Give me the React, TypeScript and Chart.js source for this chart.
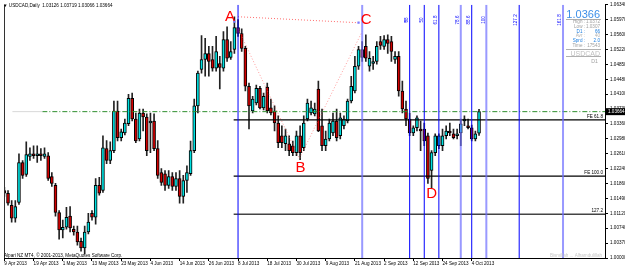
import React, { useEffect, useRef } from 'react';
import { Chart, registerables } from 'chart.js';
Chart.register(...registerables);

// ---- axis ticks ----
const xTickIdx = [0, 8, 16, 24, 32, 40, 48, 56, 64, 72, 80, 88, 96, 104, 112, 120, 128];
const xTickLabels = ['9 Apr 2013', '19 Apr 2013', '1 May 2013', '13 May 2013', '23 May 2013', '4 Jun 2013', '14 Jun 2013', '26 Jun 2013', '8 Jul 2013', '18 Jul 2013', '30 Jul 2013', '9 Aug 2013', '21 Aug 2013', '2 Sep 2013', '12 Sep 2013', '24 Sep 2013', '4 Oct 2013'];
const yTickVals = [1.0, 1.00373, 1.00746, 1.01119, 1.01492, 1.01865, 1.02238, 1.02611, 1.02984, 1.03356, 1.03729, 1.04102, 1.04475, 1.04848, 1.05221, 1.05594, 1.05967, 1.0634];
const yTickLabels = ['1.00000', '1.00370', '1.00740', '1.01120', '1.01490', '1.01860', '1.02240', '1.02610', '1.02980', '1.03360', '1.03730', '1.04100', '1.04480', '1.04850', '1.05220', '1.05600', '1.05970', '1.06340'];

// ---- daily OHLC, USDCAD 9 Apr 2013 .. 8 Oct 2013 ----
const opens = [1.0169, 1.0162, 1.0132, 1.0100, 1.0139, 1.0239, 1.0209, 1.0254, 1.0261, 1.0256, 1.0261, 1.0254, 1.0256, 1.0204, 1.0182, 1.0114, 1.0070, 1.0077, 1.0105, 1.0072, 1.0065, 1.0042, 1.0025, 1.0065, 1.0112, 1.0102, 1.0182, 1.0169, 1.0274, 1.0244, 1.0269, 1.0368, 1.0301, 1.0313, 1.0336, 1.0400, 1.0348, 1.0298, 1.0363, 1.0353, 1.0338, 1.0343, 1.0274, 1.0214, 1.0211, 1.0182, 1.0204, 1.0179, 1.0199, 1.0154, 1.0194, 1.0211, 1.0269, 1.0381, 1.0472, 1.0497, 1.0512, 1.0497, 1.0475, 1.0487, 1.0475, 1.0547, 1.0502, 1.0522, 1.0577, 1.0562, 1.0525, 1.0430, 1.0368, 1.0388, 1.0425, 1.0376, 1.0428, 1.0376, 1.0368, 1.0338, 1.0306, 1.0286, 1.0286, 1.0281, 1.0264, 1.0306, 1.0276, 1.0348, 1.0363, 1.0361, 1.0423, 1.0331, 1.0281, 1.0298, 1.0313, 1.0343, 1.0306, 1.0331, 1.0343, 1.0393, 1.0418, 1.0480, 1.0522, 1.0530, 1.0480, 1.0487, 1.0492, 1.0542, 1.0530, 1.0547, 1.0542, 1.0497, 1.0505, 1.0418, 1.0373, 1.0348, 1.0313, 1.0326, 1.0323, 1.0323, 1.0306, 1.0219, 1.0264, 1.0281, 1.0281, 1.0306, 1.0318, 1.0311, 1.0306, 1.0313, 1.0343, 1.0331, 1.0326, 1.0298, 1.03126];
const highs = [1.0177, 1.0169, 1.0144, 1.0144, 1.0261, 1.0244, 1.0291, 1.0276, 1.0281, 1.0281, 1.0274, 1.0276, 1.0264, 1.0214, 1.0187, 1.0119, 1.0095, 1.0127, 1.0129, 1.0080, 1.0080, 1.0050, 1.0080, 1.0112, 1.0119, 1.0199, 1.0202, 1.0306, 1.0294, 1.0291, 1.0393, 1.0393, 1.0323, 1.0348, 1.0410, 1.0413, 1.0363, 1.0373, 1.0373, 1.0361, 1.0363, 1.0361, 1.0294, 1.0224, 1.0219, 1.0219, 1.0214, 1.0214, 1.0219, 1.0207, 1.0231, 1.0293, 1.0398, 1.0468, 1.0557, 1.0550, 1.0530, 1.0530, 1.0555, 1.0505, 1.0567, 1.0579, 1.0542, 1.0604, 1.0597, 1.0574, 1.0530, 1.0438, 1.0405, 1.0433, 1.0430, 1.0413, 1.0438, 1.0398, 1.0381, 1.0356, 1.0331, 1.0323, 1.0306, 1.0293, 1.0318, 1.0331, 1.0356, 1.0398, 1.0393, 1.0388, 1.0443, 1.0373, 1.0318, 1.0348, 1.0363, 1.0373, 1.0363, 1.0356, 1.0398, 1.0455, 1.0505, 1.0530, 1.0542, 1.0559, 1.0517, 1.0505, 1.0542, 1.0555, 1.0557, 1.0559, 1.0555, 1.0517, 1.0517, 1.0443, 1.0393, 1.0363, 1.0331, 1.0356, 1.0343, 1.0338, 1.0313, 1.0269, 1.0311, 1.0311, 1.0323, 1.0331, 1.0338, 1.0323, 1.0323, 1.0348, 1.0356, 1.0348, 1.0333, 1.0318, 1.03719];
const lows = [1.0154, 1.0132, 1.0090, 1.0090, 1.0134, 1.0199, 1.0204, 1.0244, 1.0249, 1.0239, 1.0244, 1.0249, 1.0194, 1.0179, 1.0105, 1.0047, 1.0050, 1.0072, 1.0065, 1.0057, 1.0032, 1.0017, 1.0010, 1.0060, 1.0095, 1.0085, 1.0157, 1.0164, 1.0236, 1.0236, 1.0264, 1.0293, 1.0293, 1.0308, 1.0331, 1.0343, 1.0289, 1.0293, 1.0318, 1.0256, 1.0264, 1.0269, 1.0199, 1.0182, 1.0169, 1.0174, 1.0169, 1.0169, 1.0137, 1.0137, 1.0164, 1.0207, 1.0264, 1.0363, 1.0463, 1.0455, 1.0455, 1.0468, 1.0468, 1.0423, 1.0468, 1.0492, 1.0497, 1.0512, 1.0555, 1.0517, 1.0418, 1.0323, 1.0363, 1.0383, 1.0373, 1.0371, 1.0363, 1.0358, 1.0318, 1.0276, 1.0276, 1.0269, 1.0256, 1.0256, 1.0256, 1.0246, 1.0269, 1.0343, 1.0358, 1.0356, 1.0316, 1.0269, 1.0269, 1.0293, 1.0306, 1.0293, 1.0298, 1.0323, 1.0338, 1.0388, 1.0413, 1.0472, 1.0492, 1.0492, 1.0468, 1.0472, 1.0485, 1.0522, 1.0522, 1.0512, 1.0492, 1.0487, 1.0405, 1.0363, 1.0331, 1.0306, 1.0306, 1.0318, 1.0269, 1.0281, 1.0187, 1.0174, 1.0256, 1.0274, 1.0269, 1.0298, 1.0306, 1.0298, 1.0298, 1.0281, 1.0331, 1.0323, 1.0293, 1.0293, 1.03066];
const closes = [1.0162, 1.0137, 1.0100, 1.0129, 1.0239, 1.0207, 1.0259, 1.0261, 1.0256, 1.0261, 1.0256, 1.0261, 1.0199, 1.0187, 1.0114, 1.0070, 1.0077, 1.0102, 1.0075, 1.0065, 1.0040, 1.0025, 1.0065, 1.0090, 1.0102, 1.0182, 1.0162, 1.0276, 1.0244, 1.0269, 1.0368, 1.0301, 1.0316, 1.0338, 1.0400, 1.0348, 1.0293, 1.0363, 1.0353, 1.0269, 1.0343, 1.0274, 1.0207, 1.0189, 1.0182, 1.0204, 1.0179, 1.0199, 1.0154, 1.0194, 1.0214, 1.0269, 1.0381, 1.0463, 1.0497, 1.0512, 1.0492, 1.0475, 1.0517, 1.0477, 1.0547, 1.0500, 1.0517, 1.0577, 1.0562, 1.0525, 1.0430, 1.0381, 1.0398, 1.0425, 1.0376, 1.0405, 1.0368, 1.0363, 1.0338, 1.0289, 1.0289, 1.0306, 1.0269, 1.0264, 1.0306, 1.0264, 1.0338, 1.0388, 1.0376, 1.0373, 1.0318, 1.0281, 1.0298, 1.0338, 1.0343, 1.0301, 1.0351, 1.0348, 1.0393, 1.0430, 1.0480, 1.0522, 1.0502, 1.0500, 1.0500, 1.0492, 1.0530, 1.0532, 1.0547, 1.0537, 1.0517, 1.0505, 1.0418, 1.0373, 1.0348, 1.0313, 1.0326, 1.0351, 1.0318, 1.0293, 1.0199, 1.0264, 1.0306, 1.0306, 1.0306, 1.0318, 1.0313, 1.0301, 1.0311, 1.0336, 1.0348, 1.0326, 1.0298, 1.0311, 1.03664];

// ---- drawing objects ----
const lastPrice = 1.03664;
const feLevels = [1.03457, 1.0205, 1.01095];
const feLabels = ['FE 61.8', 'FE 100.0', '127.2'];
const feStartIdx = 62.8;
const fibTimeIdx = [111, 115, 119, 125, 128, 132, 141, 153];
const fibTimeLabels = ['38', '50', '61.8', '78.6', '88.6', '100', '127.2', '161.8'];
const fibTimeLight = [false, false, false, true, false, true, false, true];
const pointAIdx = 64;
const pointCIdx = 98;
const lineAC = [{ x: 64, y: 1.0604 }, { x: 97, y: 1.0589 }];
const lineABC = [{ x: 64, y: 1.0574 }, { x: 80.8, y: 1.0249 }, { x: 98, y: 1.0567 }];
const anchorPts = [{ x: 63, y: 1.0592 }, { x: 97, y: 1.0589 }, { x: 109.8, y: 1.0592 }];
const wavePts = [
  { t: 'A', x: 61.8, y: 1.0603 },
  { t: 'B', x: 81.1, y: 1.0225 },
  { t: 'C', x: 99.1, y: 1.0596 },
  { t: 'D', x: 117.0, y: 1.016 },
];

const FONT = 'Liberation Sans';
const SMALL = 4.6;

export default function App() {
  const ref = useRef<HTMLCanvasElement | null>(null);
  useEffect(() => {
    if (!ref.current) return;
    const bodies = opens.map((o, i) => ({ x: i, y: [o, closes[i]] }));
    const wicks = lows.map((l, i) => ({ x: i, y: [l, highs[i]] }));
    const bodyColors = opens.map((o, i) => (closes[i] >= o ? '#00e0e0' : '#d00000'));

    const vLine = (idx: number) => [{ x: idx, y: 1.0 }, { x: idx, y: 1.0634 }];
    const LIGHT = 'rgba(110,110,255,0.7)';
    const lineDs: any[] = [];
    lineDs.push({ type: 'line', data: vLine(pointAIdx), borderColor: '#0000ff', borderWidth: 1, pointRadius: 0, order: 1 });
    lineDs.push({ type: 'line', data: vLine(pointCIdx), borderColor: LIGHT, borderWidth: 2, pointRadius: 0, order: 1 });
    fibTimeIdx.forEach((idx, k) => {
      lineDs.push({
        type: 'line', data: vLine(idx),
        borderColor: fibTimeLight[k] ? LIGHT : '#0000ff',
        borderWidth: fibTimeLight[k] ? 2 : 1, pointRadius: 0, order: 1,
      });
    });
    feLevels.forEach((lv, k) => {
      lineDs.push({
        type: 'line', data: [{ x: feStartIdx, y: lv }, { x: 164.5, y: lv }],
        borderColor: k === 2 ? '#444' : '#000', borderWidth: k === 2 ? 1.5 : 1.2, pointRadius: 0, order: 1,
      });
    });
    lineDs.push({ type: 'line', data: [{ x: 2.2, y: lastPrice }, { x: 10.4, y: lastPrice }], borderColor: '#d8d8d8', borderWidth: 1, pointRadius: 0, order: 2 });
    lineDs.push({ type: 'line', data: [{ x: 10.4, y: lastPrice }, { x: 164.5, y: lastPrice }], borderColor: '#2f8f2f', borderWidth: 1, borderDash: [5, 2, 1, 2], pointRadius: 0, order: 2 });
    lineDs.push({ type: 'line', data: lineAC, borderColor: 'rgba(255,60,60,0.75)', borderWidth: 1, borderDash: [1, 2], pointRadius: 0, order: 2 });
    lineDs.push({ type: 'line', data: lineABC, borderColor: 'rgba(255,90,90,0.6)', borderWidth: 1, borderDash: [1, 2], pointRadius: 0, order: 2 });
    lineDs.push({ type: 'scatter', data: anchorPts, pointStyle: 'rect', pointRadius: 1.6, backgroundColor: '#7a7aff', borderColor: '#7a7aff', borderWidth: 0, order: 0 });

    const overlay = {
      id: 'overlay',
      afterDatasetsDraw(chart: any) {
        const { ctx, chartArea: ca, scales } = chart;
        const x = scales.x, y = scales.y;
        ctx.save();
        ctx.strokeStyle = '#333';
        ctx.lineWidth = 1;
        ctx.beginPath();
        ctx.moveTo(ca.left + 0.5, ca.top);
        ctx.lineTo(ca.left + 0.5, ca.bottom);
        ctx.stroke();
        ctx.fillStyle = '#0000ff';
        ctx.font = `${SMALL}px "${FONT}"`;
        fibTimeIdx.forEach((idx, k) => {
          const px = x.getPixelForValue(idx) - 3;
          ctx.save();
          ctx.translate(px, 20);
          ctx.rotate(-Math.PI / 2);
          ctx.textAlign = 'center';
          ctx.textBaseline = 'middle';
          ctx.fillText(fibTimeLabels[k], 0, 0);
          ctx.restore();
        });
        ctx.fillStyle = '#000';
        ctx.textAlign = 'right';
        ctx.textBaseline = 'bottom';
        feLevels.forEach((lv, k) => {
          ctx.fillText(feLabels[k], ca.right - 2, y.getPixelForValue(lv) - 1);
        });
        ctx.fillStyle = '#ff0000';
        ctx.font = `15px "${FONT}"`;
        ctx.textAlign = 'center';
        ctx.textBaseline = 'middle';
        wavePts.forEach((p) => ctx.fillText(p.t, x.getPixelForValue(p.x), y.getPixelForValue(p.y)));
        ctx.font = `${SMALL}px "${FONT}"`;
        ctx.fillStyle = '#000';
        ctx.textAlign = 'left';
        ctx.textBaseline = 'middle';
        ctx.fillText('\u25BC USDCAD,Daily  1.03126 1.03719 1.03066 1.03664', 3, 6);
        ctx.fillText('Alpari NZ MT4, \u00A9 2001-2013, MetaQuotes Software Corp.', 4, 255.5);
        ctx.fillStyle = '#c8c8c8';
        ctx.textAlign = 'right';
        ctx.fillText('Bismillah ... Alhamdulillah', ca.right - 3, 256);
        ctx.textAlign = 'right';
        ctx.textBaseline = 'alphabetic';
        ctx.fillStyle = '#3d8fe8';
        ctx.font = `11px "${FONT}"`;
        ctx.fillText('1.0366', 600, 18);
        ctx.strokeStyle = '#b0b0b0';
        ctx.lineWidth = 1;
        [19.5, 49.5, 56.5].forEach((yy) => {
          ctx.beginPath();
          ctx.moveTo(566, yy);
          ctx.lineTo(601, yy);
          ctx.stroke();
        });
        const rows: [string, string, string][] = [
          ['High :', '1.0372', '#a0a0a0'],
          ['Low :', '1.0307', '#a0a0a0'],
          ['D1 :', '66', '#1e7fe0'],
          ['Avr :', '40', '#b0b0b0'],
          ['Sprd :', '2.0', '#1e7fe0'],
          ['Time :', '17543', '#a0a0a0'],
        ];
        ctx.font = `${SMALL}px "${FONT}"`;
        rows.forEach((r, k) => {
          const yy = 23 + k * 4.8;
          ctx.fillStyle = r[2];
          ctx.fillText(r[0], 585, yy);
          ctx.fillText(r[1], 600, yy);
        });
        ctx.fillStyle = '#c0c0c0';
        ctx.font = `7px "${FONT}"`;
        ctx.fillText('USDCAD', 600, 55.5);
        ctx.font = `${SMALL + 0.6}px "${FONT}"`;
        ctx.fillStyle = '#a0a0a0';
        ctx.fillText('D1', 598, 62.5);
        ctx.restore();
      },
      afterDraw(chart: any) {
        const { ctx, chartArea: ca, scales } = chart;
        const py = scales.y.getPixelForValue(lastPrice);
        ctx.save();
        ctx.fillStyle = '#000';
        ctx.fillRect(ca.right + 1, py - 3.5, 625 - ca.right, 7);
        ctx.fillStyle = '#fff';
        ctx.font = `${SMALL}px "${FONT}"`;
        ctx.textAlign = 'left';
        ctx.textBaseline = 'middle';
        ctx.fillText('1.03664', ca.right + 3, py);
        ctx.restore();
      },
    };

    const chart = new Chart(ref.current, {
      type: 'bar',
      data: {
        datasets: [
          {
            type: 'bar', data: bodies as any, backgroundColor: bodyColors, borderColor: '#000', borderWidth: 1,
            borderSkipped: false, barThickness: 3, grouped: false, minBarLength: 1, order: 10,
          },
          {
            type: 'bar', data: wicks as any, backgroundColor: '#222', borderWidth: 0,
            barThickness: 1, grouped: false, order: 11,
          },
          ...lineDs,
        ],
      },
      options: {
        animation: false,
        responsive: false,
        maintainAspectRatio: false,
        layout: { padding: { left: 2, top: 3, right: 0, bottom: 0 } },
        plugins: { legend: { display: false }, tooltip: { enabled: false } },
        scales: {
          x: {
            type: 'linear', min: -0.1, max: 164.5, offset: false,
            grid: { drawOnChartArea: false, drawTicks: true, tickLength: 3, color: '#000', offset: false },
            border: { display: true, color: '#000' },
            ticks: {
              autoSkip: false, maxRotation: 0, minRotation: 0, align: 'start', padding: 0,
              color: '#000', font: { size: SMALL, family: FONT },
              callback: (v: any) => { const k = xTickIdx.indexOf(Number(v)); return k >= 0 ? xTickLabels[k] : ''; },
            },
            afterBuildTicks: (s: any) => { s.ticks = xTickIdx.map((v) => ({ value: v })); },
            afterFit: (s: any) => { s.height = 11; },
          },
          y: {
            type: 'linear', position: 'right', min: 1.0, max: 1.0634,
            grid: { drawOnChartArea: false, drawTicks: true, tickLength: 3, color: '#000' },
            border: { display: true, color: '#000' },
            ticks: {
              padding: 2, color: '#000', font: { size: SMALL, family: FONT },
              callback: (v: any) => { const k = yTickVals.indexOf(Number(v)); return k >= 0 ? yTickLabels[k] : ''; },
            },
            afterBuildTicks: (s: any) => { s.ticks = yTickVals.map((v) => ({ value: v })); },
            afterFit: (s: any) => { s.width = 20; },
          },
        },
      },
      plugins: [overlay],
    });
    return () => chart.destroy();
  }, []);

  return (
    <div style={{ position: 'fixed', left: 0, top: 0, width: 625, height: 269, background: '#fff' }}>
      <canvas ref={ref} width={625} height={269} style={{ width: 625, height: 269, display: 'block' }} />
    </div>
  );
}
